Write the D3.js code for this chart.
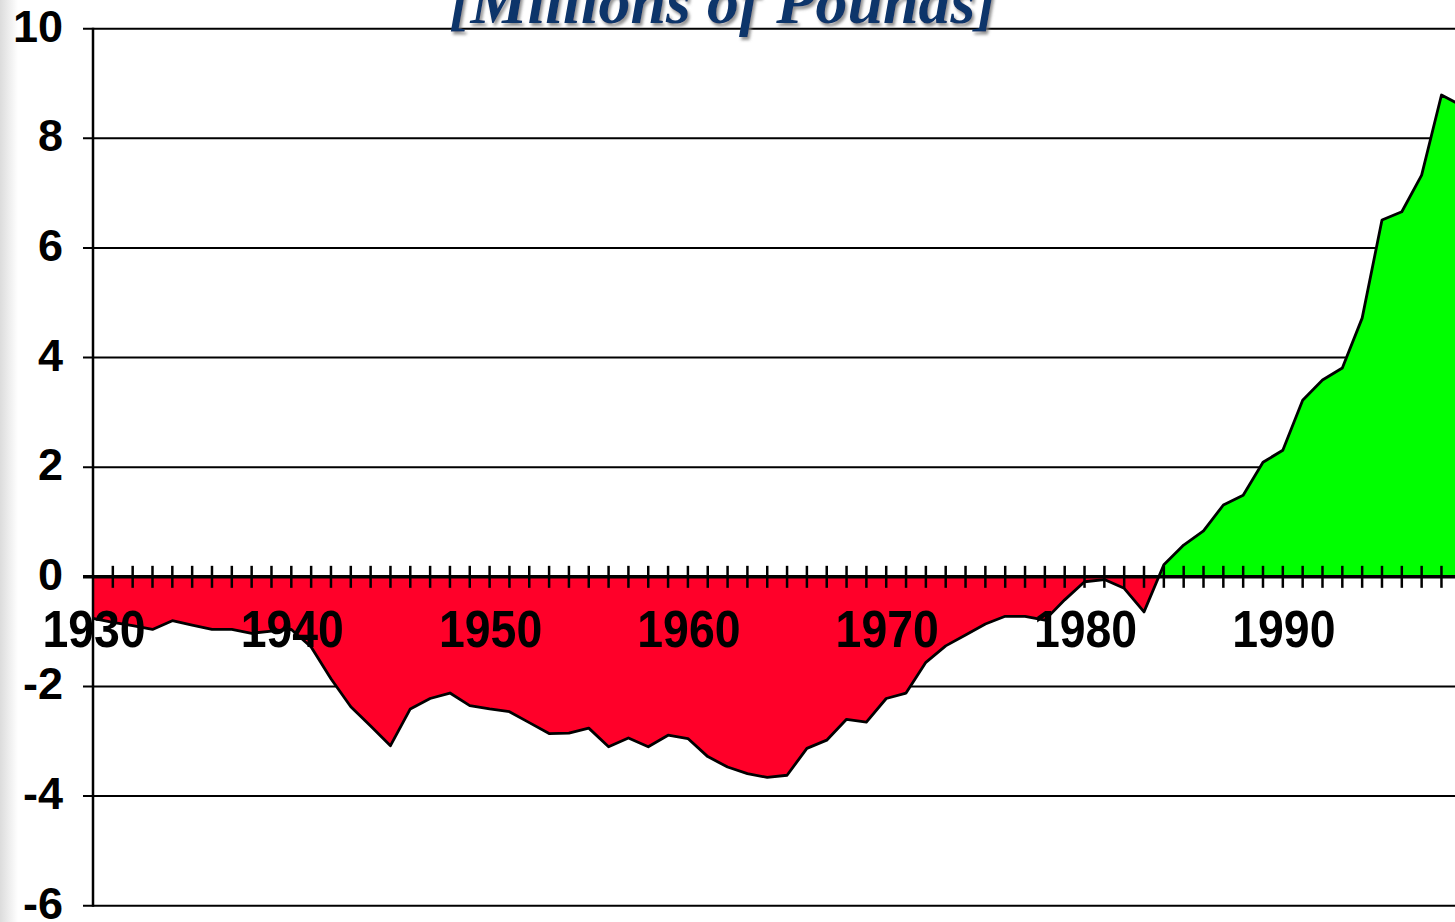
<!DOCTYPE html>
<html>
<head>
<meta charset="utf-8">
<script src="https://cdn.jsdelivr.net/npm/d3@7"></script>
<style>
  html, body { margin: 0; padding: 0; background: #fff; overflow: hidden; }
  text { font-family: "Liberation Sans", Arial, sans-serif; font-weight: bold; }
</style>
</head>
<body>
<div id="plot"></div>
<script>
// Data (millions of pounds, per year)
const years = d3.range(1930, 2000);
const values = [
  -0.76, -0.83, -0.89, -0.96, -0.80, -0.88, -0.96, -0.96, -1.03, -0.99,
  -0.96, -1.28, -1.86, -2.37, -2.72, -3.08, -2.41, -2.22, -2.12, -2.35,
  -2.41, -2.46, -2.66, -2.86, -2.85, -2.76, -3.10, -2.94, -3.10, -2.89,
  -2.95, -3.28, -3.47, -3.59, -3.66, -3.62, -3.13, -2.98, -2.60, -2.65,
  -2.22, -2.12, -1.56, -1.26, -1.06, -0.86, -0.72, -0.72, -0.79, -0.42,
  -0.09, -0.05, -0.21, -0.64, 0.22, 0.58, 0.84, 1.31, 1.49, 2.09,
  2.31, 3.22, 3.59, 3.81, 4.72, 6.51, 6.66, 7.33, 8.79, 8.60
];
const yTicks = [-6, -4, -2, 0, 2, 4, 6, 8, 10];
const decadeLabels = [1930, 1940, 1950, 1960, 1970, 1980, 1990];
const titleText = "[Millions of Pounds]";

const W = 1455, H = 922;
const data = years.map((yr, i) => ({ year: yr, value: values[i] }));

const svg = d3.select("#plot").append("svg")
    .attr("width", W)
    .attr("height", H);

const defs = svg.append("defs");

// light grey strip on the left edge
const grad = defs.append("linearGradient").attr("id", "edge")
    .attr("x1", 0).attr("x2", 1).attr("y1", 0).attr("y2", 0);
grad.append("stop").attr("offset", 0).attr("stop-color", "#dcdcdc");
grad.append("stop").attr("offset", 1).attr("stop-color", "#ffffff");

const shadow = defs.append("filter").attr("id", "shadow")
    .attr("x", "-10%").attr("y", "-30%").attr("width", "120%").attr("height", "160%");
shadow.append("feDropShadow")
    .attr("dx", 2).attr("dy", 3).attr("stdDeviation", 1.5)
    .attr("flood-color", "#777").attr("flood-opacity", 0.8);

svg.append("rect").attr("width", W).attr("height", H).attr("fill", "#fff");
svg.append("rect").attr("width", 18).attr("height", H).attr("fill", "url(#edge)");

// scales
const x = d3.scaleLinear().domain([1930, 1999]).range([93, 1461.3]);
const y = d3.scaleLinear().domain([-6, 10]).range([905.7, 28.7]);
const y0 = y(0);
const plotRight = 1470;

// horizontal gridlines (behind the area)
svg.append("g").selectAll("line")
    .data(yTicks.filter(d => d !== 0))
    .enter().append("line")
    .attr("x1", 83).attr("x2", plotRight)
    .attr("y1", d => y(d)).attr("y2", d => y(d))
    .attr("stroke", "#000").attr("stroke-width", 2);

// area split at zero with two clip paths
defs.append("clipPath").attr("id", "above")
    .append("rect").attr("x", 0).attr("y", 0).attr("width", W).attr("height", y0);
defs.append("clipPath").attr("id", "below")
    .append("rect").attr("x", 0).attr("y", y0).attr("width", W).attr("height", H - y0);

const area = d3.area()
    .x(d => x(d.year))
    .y0(y0)
    .y1(d => y(d.value));

svg.append("path").datum(data)
    .attr("d", area)
    .attr("fill", "#ff0029")
    .attr("clip-path", "url(#below)");

svg.append("path").datum(data)
    .attr("d", area)
    .attr("fill", "#00ff00")
    .attr("clip-path", "url(#above)");

const line = d3.line()
    .x(d => x(d.year))
    .y(d => y(d.value));

svg.append("path").datum(data)
    .attr("d", line)
    .attr("fill", "none")
    .attr("stroke", "#000")
    .attr("stroke-width", 2.8)
    .attr("stroke-linejoin", "round");

// zero line with cross ticks for every year
svg.append("line")
    .attr("x1", 83).attr("x2", plotRight)
    .attr("y1", y0).attr("y2", y0)
    .attr("stroke", "#000").attr("stroke-width", 3.5);

svg.append("g").selectAll("line")
    .data(years.slice(1))
    .enter().append("line")
    .attr("x1", d => x(d)).attr("x2", d => x(d))
    .attr("y1", y0 - 11).attr("y2", y0 + 11)
    .attr("stroke", "#000").attr("stroke-width", 2.5);

// y axis
svg.append("line")
    .attr("x1", 93).attr("x2", 93)
    .attr("y1", y(10) - 1).attr("y2", y(-6) + 1)
    .attr("stroke", "#000").attr("stroke-width", 2.5);

svg.append("g").selectAll("text")
    .data(yTicks)
    .enter().append("text")
    .attr("x", 63)
    .attr("y", d => y(d) + 13)
    .attr("text-anchor", "end")
    .style("font-size", "45px")
    .attr("fill", "#000")
    .text(d => d);

// decade labels
svg.append("g").selectAll("text")
    .data(decadeLabels)
    .enter().append("text")
    .attr("transform", d => `translate(${x(d) + 1},646.5) scale(0.91,1)`)
    .attr("text-anchor", "middle")
    .style("font-size", "51px")
    .attr("fill", "#000")
    .text(d => d);

// title (cut off by the top edge, as in the source)
svg.append("text")
    .attr("x", 723)
    .attr("y", 23)
    .attr("text-anchor", "middle")
    .attr("filter", "url(#shadow)")
    .style("font-family", "'Liberation Serif', 'Times New Roman', serif")
    .style("font-style", "italic")
    .style("font-weight", "bold")
    .style("font-size", "64px")
    .attr("fill", "#0b346b")
    .text(titleText);
</script>
</body>
</html>
